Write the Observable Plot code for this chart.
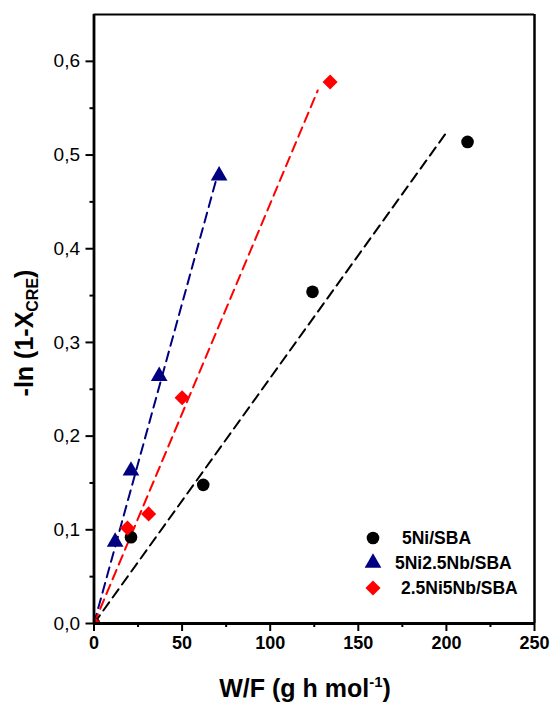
<!DOCTYPE html>
<html>
<head>
<meta charset="utf-8">
<script src="https://cdn.jsdelivr.net/npm/d3@7"></script>
<script src="https://cdn.jsdelivr.net/npm/@observablehq/plot@0.6"></script>
<style>
  html, body { margin: 0; padding: 0; background: #fff; }
  #chart { position: relative; width: 553px; height: 704px; }
</style>
</head>
<body>
<div id="chart"></div>
<script>
// ---- data ----
const seriesNames = ["5Ni/SBA", "5Ni2.5Nb/SBA", "2.5Ni5Nb/SBA"];
const seriesColors = ["#000000", "#000080", "#ff0000"];
const seriesSymbols = ["circle", "triangle", "diamond2"];

const ni_wf = [0, 21, 62, 124, 212];
const ni_y = [0, 0.092, 0.148, 0.354, 0.514];
const ninb_wf = [0, 12, 21, 37, 71];
const ninb_y = [0, 0.087, 0.163, 0.264, 0.478];
const nbni_wf = [0, 19, 31, 50, 134];
const nbni_y = [0, 0.102, 0.117, 0.241, 0.578];

// linear fits through origin: slope and last W/F value of the fitted line
const fitSlope = [0.00262, 0.00683, 0.00448];
const fitEnd = [200, 69, 127];

const xTicks = [0, 50, 100, 150, 200, 250];
const xMinorTicks = [25, 75, 125, 175, 225];
const yTicks = [0, 0.1, 0.2, 0.3, 0.4, 0.5, 0.6];
const yMinorTicks = [0.05, 0.15, 0.25, 0.35, 0.45, 0.55];

// ---- build tables ----
const xs = [ni_wf, ninb_wf, nbni_wf];
const ys = [ni_y, ninb_y, nbni_y];
const points = seriesNames.map((name, i) => xs[i].map((x, j) => ({series: name, x, y: ys[i][j]})));
const fits = seriesNames.map((name, i) => [
  {series: name, x: 0, y: 0},
  {series: name, x: fitEnd[i], y: fitSlope[i] * fitEnd[i]}
]);
const sizes = [6.3, 6.2, 6.8];

const font = "'Liberation Sans', Arial, sans-serif";
const fmt = d => d.toFixed(1).replace(".", ",");

const chart = Plot.plot({
  width: 553,
  height: 704,
  marginLeft: 93.5,
  marginRight: 19,
  marginTop: 14,
  marginBottom: 81,
  style: {fontFamily: font, background: "#fff", color: "#000"},
  x: {domain: [0, 250]},
  y: {domain: [0, 0.65]},
  marks: [
    ...fits.map((f, i) => Plot.line(f, {x: "x", y: "y", stroke: seriesColors[i], strokeWidth: 2, strokeDasharray: "10,6"})),
    ...points.map((p, i) => Plot.dot(p, {x: "x", y: "y", symbol: seriesSymbols[i], fill: seriesColors[i], stroke: "none", r: sizes[i], clip: true})),
    Plot.axisX({ticks: xTicks, tickSize: 8, tickPadding: 5, strokeWidth: 2, fontSize: 18, fontWeight: "bold", label: null, tickFormat: d => String(d)}),
    Plot.axisX({ticks: xMinorTicks, tickSize: 4, strokeWidth: 2, text: null, label: null}),
    Plot.axisY({ticks: yTicks, tickSize: 8, tickPadding: 6, strokeWidth: 2, fontSize: 19, label: null, tickFormat: fmt}),
    Plot.axisY({ticks: yMinorTicks, tickSize: 4, strokeWidth: 2, text: null, label: null}),
    Plot.ruleY([0.65], {strokeWidth: 1.8}),
    Plot.ruleX([250], {strokeWidth: 2.5}),
    Plot.ruleX([0], {strokeWidth: 2.8}),
    Plot.ruleY([0], {strokeWidth: 2.8})
  ]
});

document.getElementById("chart").appendChild(chart);

// ---- axis titles (with sub/superscripts) and legend ----
const svg = d3.select(chart);

const xt = svg.append("text")
  .attr("x", 305).attr("y", 697)
  .attr("text-anchor", "middle")
  .style("font-family", font).style("font-weight", "bold").style("font-size", "25px").attr("fill", "#000");
xt.append("tspan").text("W/F (g h mol");
xt.append("tspan").attr("dy", -10).style("font-size", "15px").text("-1");
xt.append("tspan").attr("dy", 10).text(")");

const yt = svg.append("text")
  .attr("transform", "translate(33,333) rotate(-90)")
  .attr("text-anchor", "middle")
  .style("font-family", font).style("font-weight", "bold").style("font-size", "25px").attr("fill", "#000");
yt.append("tspan").text("-ln (1-X");
yt.append("tspan").attr("dy", 5).style("font-size", "16px").text("CRE");
yt.append("tspan").attr("dy", -5).text(")");

const legendRows = [538, 563, 588];
const legendTextX = [402, 395, 401];
const symFns = [d3.symbolCircle, d3.symbolTriangle, d3.symbolDiamond2];
const lg = svg.append("g");
seriesNames.forEach((name, i) => {
  lg.append("path")
    .attr("transform", `translate(373,${legendRows[i]})`)
    .attr("d", d3.symbol(symFns[i], Math.PI * sizes[i] * sizes[i])())
    .attr("fill", seriesColors[i]);
  lg.append("text")
    .attr("x", legendTextX[i]).attr("y", legendRows[i]).attr("dy", "0.35em")
    .attr("text-anchor", "start")
    .style("font-family", font).style("font-weight", "bold").style("font-size", "17.5px")
    .attr("fill", "#000").text(name);
});
</script>
</body>
</html>
